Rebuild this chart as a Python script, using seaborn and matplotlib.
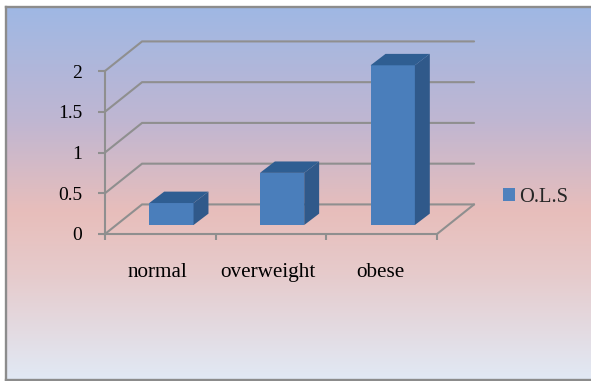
import numpy as np
import matplotlib
matplotlib.use("Agg")
import matplotlib.pyplot as plt
from matplotlib.colors import LinearSegmentedColormap
from matplotlib.patches import Patch, Polygon
import pandas as pd
import seaborn as sns

categories = ["normal", "overweight", "obese"]
ols_values = [0.27, 0.64, 1.96]
y_ticks = [0, 0.5, 1, 1.5, 2]
y_tick_labels = ["0", "0.5", "1", "1.5", "2"]
series_name = "O.L.S"

W, H = 591, 381
FRONT, SIDE, TOP = "#4a7ebb", "#30598a", "#2f5e92"
GREY = "#8f8f8f"

sns.set_theme(style="white")
plt.rcParams["font.family"] = ["Liberation Serif", "DejaVu Serif"]

fig = plt.figure(figsize=(W / 100, H / 100), dpi=100, facecolor="white")

# Panel background: vertical gradient, framed on the top, left and bottom
bg = fig.add_axes([6 / W, 1 - 380 / H, 585 / W, 373 / H], zorder=0)
stops = [(0.0, "#9fb8e4"), (0.30, "#bfb6d2"), (0.55, "#e8bebb"), (0.72, "#e6cbcc"), (1.0, "#e1e9f5")]
cmap = LinearSegmentedColormap.from_list("panel", stops)
bg.imshow(np.linspace(0, 1, 256)[:, None], aspect="auto", cmap=cmap, vmin=0, vmax=1)
bg.set_xticks([])
bg.set_yticks([])
for s in bg.spines.values():
    s.set_color("#8c8c8c")
    s.set_linewidth(1.7)
bg.spines["right"].set_visible(False)

ax = fig.add_axes([105 / W, 1 - 234 / H, 332 / W, 163 / H], zorder=1)
ax.patch.set_alpha(0)

df = pd.DataFrame({"group": categories, "value": ols_values})
sns.barplot(data=df, x="group", y="value", order=categories, width=0.4,
            color=FRONT, saturation=1, linewidth=0, ax=ax, zorder=4)

# Oblique depth vector, in data units
ax.set_xlim(-0.5, 2.5)
ax.set_ylim(0, 2)
DX, DY = 0.335, 0.363

# Back wall, side wall and floor
for y in y_ticks:
    ax.plot([-0.5, -0.5 + DX, 2.5 + DX], [y, y + DY, y + DY], color=GREY, lw=1.5,
            clip_on=False, zorder=1, solid_joinstyle="miter")
ax.plot([2.5, 2.5 + DX], [0, DY], color=GREY, lw=1.5, clip_on=False, zorder=1)

# Lift each bar onto the floor and add its top and side faces
for bar in ax.patches:
    x0 = bar.get_x() + 0.1
    y0 = 0.11
    h = bar.get_height()
    w = bar.get_width()
    bar.set_x(x0)
    bar.set_y(y0)
    bar.set_clip_on(False)
    dx, dy = 0.135, 0.14
    ax.add_patch(Polygon([(x0 + w, y0), (x0 + w + dx, y0 + dy), (x0 + w + dx, y0 + h + dy), (x0 + w, y0 + h)],
                         closed=True, fc=SIDE, ec="none", clip_on=False, zorder=4))
    ax.add_patch(Polygon([(x0, y0 + h), (x0 + dx, y0 + h + dy), (x0 + w + dx, y0 + h + dy), (x0 + w, y0 + h)],
                         closed=True, fc=TOP, ec="none", clip_on=False, zorder=4))

ax.set_xlabel("")
ax.set_ylabel("")
ax.set_xticks(np.arange(-0.5, 3, 1), minor=False)
ax.set_xticklabels([])
ax.set_yticks(y_ticks)
ax.set_yticklabels(y_tick_labels, fontsize=14, color="black")
ax.tick_params(axis="y", length=5, width=1.5, color=GREY, pad=11.5, left=True)
ax.tick_params(axis="x", length=4, width=1.5, color=GREY, bottom=True)
for i, (name, nudge) in enumerate(zip(categories, (-3, -3, -1))):
    ax.annotate(name, (i, 0), xytext=(nudge, -43), textcoords="offset pixels",
                ha="center", va="baseline", fontsize=15.2, color="black", annotation_clip=False)

sns.despine(ax=ax, top=True, right=True)
for side in ("left", "bottom"):
    ax.spines[side].set_color(GREY)
    ax.spines[side].set_linewidth(1.5)

handle = Patch(facecolor="#4f81bd", edgecolor="none", label=series_name)
fig.legend(handles=[handle], loc="center left", bbox_to_anchor=(503 / W, 1 - 197 / H),
           frameon=False, fontsize=14.8, handlelength=0.58, handleheight=0.58,
           handletextpad=0.2, borderpad=0, borderaxespad=0)

fig.savefig("out.png", dpi=100)
